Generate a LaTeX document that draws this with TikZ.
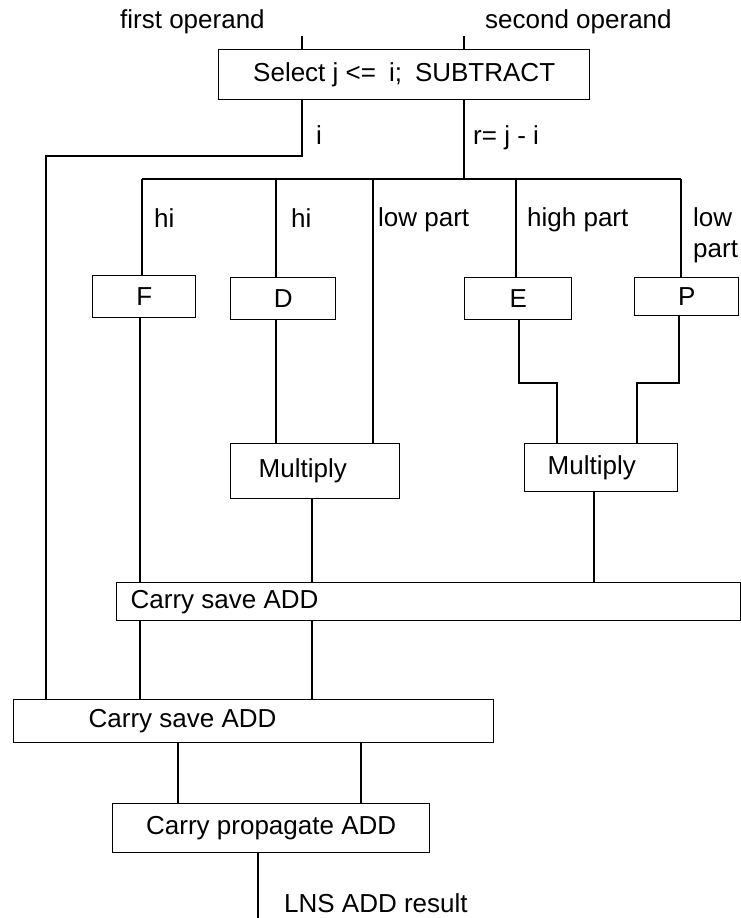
\documentclass[tikz,border=0pt]{standalone}
\usepackage{fontspec}
\setmainfont{Liberation Sans}
\newcommand\padtext[3]{\makebox[#1pt][l]{\hspace{#2pt}#3}}
\begin{document}
\begin{tikzpicture}[x=1pt,y=-1pt,
  every node/.style={font=\fontsize{26}{31}\selectfont, inner sep=0pt},
  box/.style={draw, line width=1.4pt, rectangle, anchor=north west},
  lbl/.style={anchor=base west},
  wire/.style={line width=1.4pt}]
\useasboundingbox (0,0) rectangle (741,918);

% column and level coordinates
\coordinate (cL) at (46,0);
\coordinate (cFb) at (140,0);
\coordinate (cF) at (142,0);
\coordinate (cC2a) at (178,0);
\coordinate (cOut) at (258,0);
\coordinate (cD) at (276,0);
\coordinate (cI) at (302,0);
\coordinate (cM1o) at (312,0);
\coordinate (cC2b) at (361,0);
\coordinate (cLow) at (373,0);
\coordinate (cR) at (464,0);
\coordinate (cE) at (516,0);
\coordinate (cEb) at (519,0);
\coordinate (cM2a) at (557,0);
\coordinate (cM2o) at (594,0);
\coordinate (cM2b) at (637,0);
\coordinate (cPb) at (679,0);
\coordinate (cP) at (681,0);
\coordinate (yI) at (0,156);
\coordinate (yBus) at (0,179);
\coordinate (yJog) at (0,383);

% boxes
\node[box, minimum width=371pt, minimum height=50pt] (sel) at (218,49)
  {Select j <=\hspace{0.5em}i;\hspace{0.5em}SUBTRACT};
\node[box, minimum width=103pt, minimum height=42pt] (F) at (92,275) {F};
\node[box, minimum width=105pt, minimum height=42pt] (D) at (230,277) {D};
\node[box, minimum width=107pt, minimum height=42pt] (E) at (464,277) {E};
\node[box, minimum width=104pt, minimum height=38pt] (P) at (634,277) {P};
\node[box, minimum height=55pt] (m1) at (230,443) {\padtext{169}{28}{Multiply}};
\node[box, minimum height=48pt] (m2) at (524,443) {\padtext{153}{23}{Multiply}};
\node[box, minimum height=38pt] (csa1) at (116,582) {\padtext{624}{14}{Carry save ADD}};
\node[box, minimum height=43pt] (csa2) at (13,699) {\padtext{480}{75}{Carry save ADD}};
\node[box, minimum width=317pt, minimum height=49pt] (cpa) at (112,803) {Carry propagate ADD};

% free ends
\coordinate (in1) at (302,36);
\coordinate (in2) at (464,36);
\coordinate (res) at (258,918);

% labels
\node[lbl] (t1) at (120,28) {first operand};
\node[lbl] (t2) at (485,28) {second operand};
\node[lbl] (ti) at (316,144) {i};
\node[lbl] (tr) at (473,144) {r= j - i};
\node[lbl] (thi1) at (154,227) {hi};
\node[lbl] (thi2) at (291,227) {hi};
\node[lbl] (tlow) at (378,226) {low part};
\node[lbl] (thigh) at (527,226) {high part};
\node[anchor=north west, align=left] (tlow2) at (693,207) {low\\part};
\node[lbl] (tres) at (284,912) {LNS ADD result};

% connectors
\draw[wire] (in1) -- (sel.north -| in1);
\draw[wire] (in2) -- (sel.north -| in2);
\draw[wire] (sel.south -| cI) -- (cI |- yI) -- (cL |- yI) -- (csa2.north -| cL);
\draw[wire] (sel.south -| cR) -- (cR |- yBus);
\draw[wire] (cF |- yBus) -- (cP |- yBus);
\draw[wire] (cF |- yBus) -- (F.north -| cF);
\draw[wire] (cD |- yBus) -- (D.north -| cD);
\draw[wire] (cLow |- yBus) -- (m1.north -| cLow);
\draw[wire] (cE |- yBus) -- (E.north -| cE);
\draw[wire] (cP |- yBus) -- (P.north -| cP);
\draw[wire] (F.south -| cFb) -- (csa1.north -| cFb);
\draw[wire] (D.south -| cD) -- (m1.north -| cD);
\draw[wire] (E.south -| cEb) -- (cEb |- yJog) -- (cM2a |- yJog) -- (m2.north -| cM2a);
\draw[wire] (P.south -| cPb) -- (cPb |- yJog) -- (cM2b |- yJog) -- (m2.north -| cM2b);
\draw[wire] (m1.south -| cM1o) -- (csa1.north -| cM1o);
\draw[wire] (m2.south -| cM2o) -- (csa1.north -| cM2o);
\draw[wire] (csa1.south -| cFb) -- (csa2.north -| cFb);
\draw[wire] (csa1.south -| cM1o) -- (csa2.north -| cM1o);
\draw[wire] (csa2.south -| cC2a) -- (cpa.north -| cC2a);
\draw[wire] (csa2.south -| cC2b) -- (cpa.north -| cC2b);
\draw[wire] (cpa.south -| cOut) -- (res);
\end{tikzpicture}
\end{document}
